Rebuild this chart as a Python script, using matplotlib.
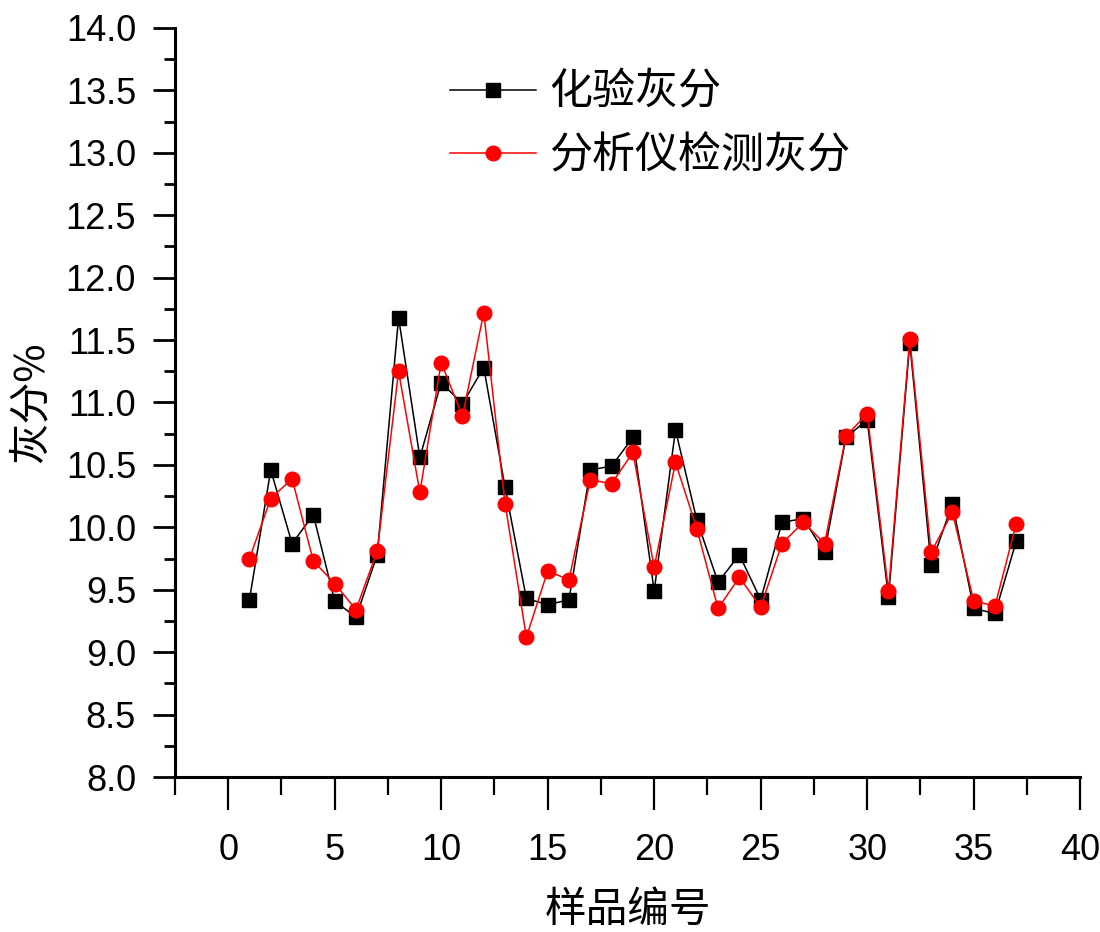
import matplotlib
matplotlib.use("Agg")
import matplotlib.pyplot as plt
from matplotlib.ticker import MultipleLocator

plt.rcParams['font.family'] = ['Liberation Sans Narrow', 'Liberation Sans', 'Noto Sans CJK SC', 'DejaVu Sans']

samples = list(range(1, 38))
lab_ash = [9.42, 10.46, 9.87, 10.10, 9.41, 9.28, 9.78, 11.68, 10.56, 11.16,
           10.99, 11.28, 10.32, 9.43, 9.38, 9.42, 10.46, 10.49, 10.72, 9.49,
           10.78, 10.06, 9.56, 9.78, 9.42, 10.04, 10.07, 9.80, 10.72, 10.86,
           9.44, 11.48, 9.70, 10.19, 9.35, 9.31, 9.89]
analyzer_ash = [9.75, 10.23, 10.39, 9.73, 9.55, 9.34, 9.81, 11.25, 10.28, 11.32,
                10.89, 11.72, 10.19, 9.12, 9.65, 9.58, 10.38, 10.35, 10.60, 9.68,
                10.52, 9.99, 9.35, 9.60, 9.36, 9.87, 10.04, 9.87, 10.73, 10.91,
                9.49, 11.51, 9.80, 10.12, 9.41, 9.37, 10.03]

cjk = ['Noto Sans CJK SC', 'DejaVu Sans']

fig = plt.figure(figsize=(11, 9.32), dpi=100)
ax = fig.add_axes([0.159, 0.1663, 0.823, 0.8037])

ax.plot(samples, lab_ash, color='black', lw=1.1, marker='s', ms=9.5,
        mfc='black', mec='black', label='化验灰分', zorder=3)
ax.plot(samples, analyzer_ash, color='red', lw=1.1, marker='o', ms=10.5,
        mfc='red', mec='red', label='分析仪检测灰分', zorder=4)

ax.set_xlim(-2.5, 40)
ax.set_ylim(8, 14)
ax.xaxis.set_major_locator(MultipleLocator(5))
ax.xaxis.set_minor_locator(MultipleLocator(2.5))
ax.yaxis.set_major_locator(MultipleLocator(0.5))
ax.yaxis.set_minor_locator(MultipleLocator(0.25))
ax.yaxis.set_major_formatter(matplotlib.ticker.FormatStrFormatter('%.1f'))

for s in ['top', 'right']:
    ax.spines[s].set_visible(False)
for s in ['left', 'bottom']:
    ax.spines[s].set_linewidth(2.2)

ax.tick_params(axis='x', which='major', direction='out', length=24, width=1.6, pad=16, labelsize=26)
ax.tick_params(axis='x', which='minor', direction='out', length=13, width=1.6)
ax.tick_params(axis='y', which='major', direction='out', length=16, width=2.0, pad=12, labelsize=26)
ax.tick_params(axis='y', which='minor', direction='out', length=8, width=2.0)

ax.set_xlabel('样品编号', family=cjk, fontsize=30, labelpad=16)
ax.set_ylabel('灰分%', family=cjk, fontsize=30, labelpad=10)

leg = ax.legend(loc='upper left', bbox_to_anchor=(0.285, 0.966), frameon=False,
                prop={'family': cjk, 'size': 31}, handlelength=2.0,
                handletextpad=0.3, labelspacing=0.45, borderaxespad=0)

fig.savefig('out.png', dpi=100)
